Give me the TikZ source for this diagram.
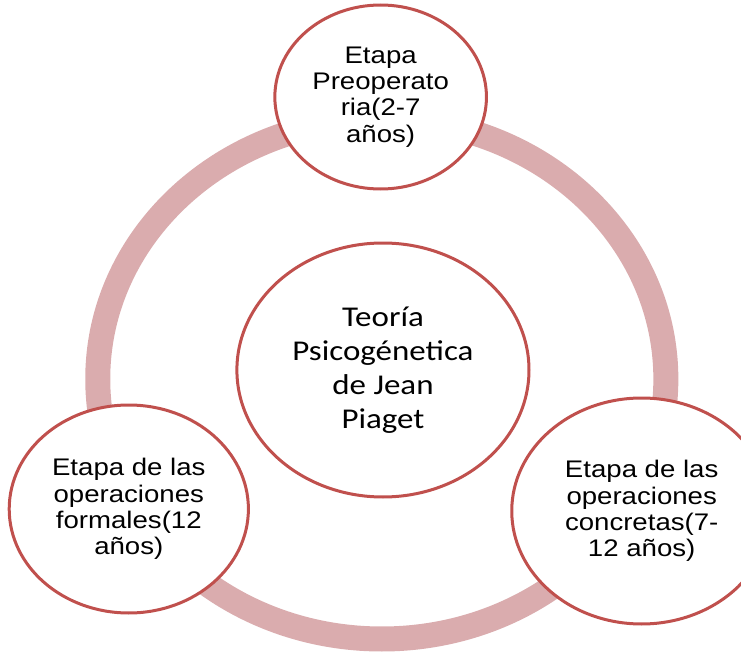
\documentclass[tikz,border=0pt]{standalone}
\usepackage{fontspec}
\newfontfamily\arialfont{Liberation Sans}
\newfontfamily\calfont{Carlito}
\definecolor{rim}{RGB}{192,80,77}
\definecolor{band}{RGB}{218,172,174}
\begin{document}
\begin{tikzpicture}[x=0.8625pt, y=-0.75pt,
    stage/.style = {draw=rim, line width=2.25pt, fill=white, circle, inner sep=0pt,
      align=center, xscale=1.15, font=\arialfont\fontsize{18}{19.8}\selectfont},
    core/.style = {stage, font=\calfont\fontsize{21.5}{25.5}\selectfont},
    ring/.style = {draw=band, line width=18.75pt}]
        \useasboundingbox (0,0) rectangle (644.35,653);
        \clip (0,0) rectangle (644.35,653);
        \coordinate (hub) at (332,379);
        \draw[ring] (hub) ellipse [x radius=247, y radius=260];
        \node[core, minimum size=190.5pt] (piaget) at (333,370) {Teoría\\Psicogénetica\\de Jean\\Piaget};
        \node[stage, minimum size=138pt] (preop) at (331,97) {Etapa\\Preoperato\\ria(2-7\\años)};
        \node[stage, minimum size=156pt] (formal) at (112,509) {Etapa de las\\operaciones\\formales(12\\años)};
        \node[stage, minimum size=169.5pt] (concr) at (558,511) {Etapa de las\\operaciones\\concretas(7-\\12 años)};
    \end{tikzpicture}
\end{document}
